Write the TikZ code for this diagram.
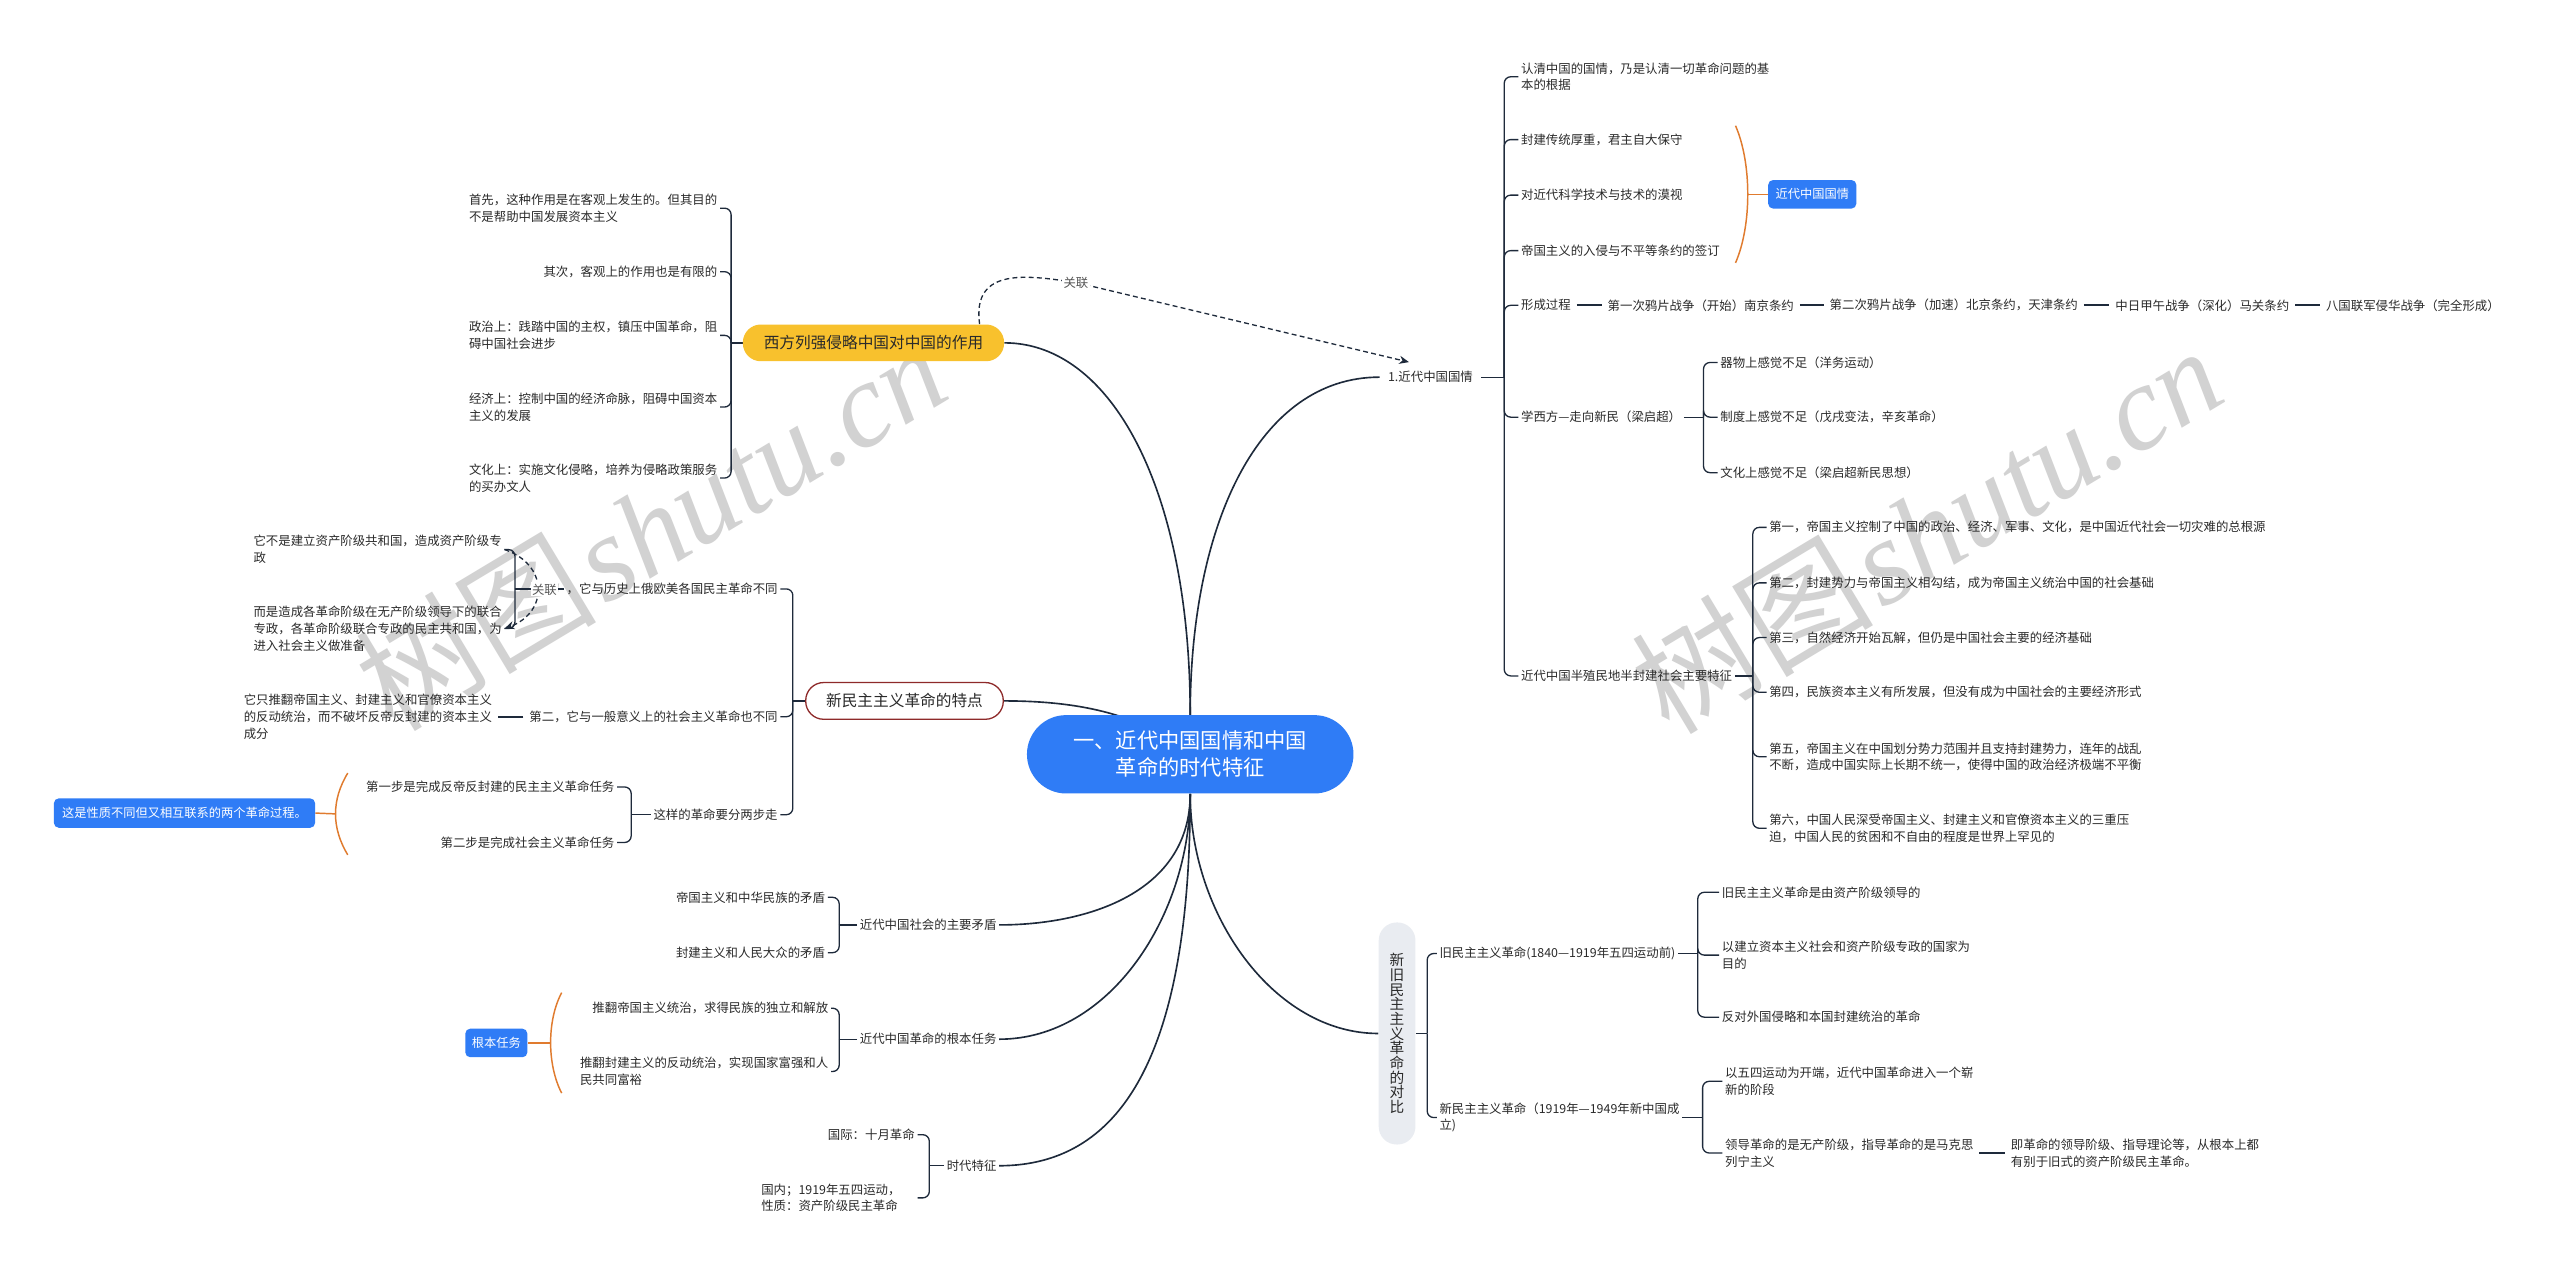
\documentclass[tikz,border=0pt]{standalone}
\usepackage{fontspec}
\setmainfont{Noto Sans CJK SC}
\newfontfamily\wmlat{Liberation Serif}
\usetikzlibrary{arrows.meta}
\pgfdeclarelayer{background}
\pgfsetlayers{background,main}
\definecolor{lc}{HTML}{1E2A3B}
\definecolor{tc}{HTML}{2A2A2A}
\definecolor{lab}{HTML}{555555}
\definecolor{blueC}{HTML}{2F7CF6}
\definecolor{yelC}{HTML}{F8C12D}
\definecolor{orC}{HTML}{E07B2E}
\definecolor{redC}{HTML}{8E2A2A}
\definecolor{pillC}{HTML}{E9ECF1}
\definecolor{wmC}{HTML}{D2D2D2}
\tikzset{
  txt/.style={inner sep=1.5pt, font=\fontsize{7.6}{10.2}\selectfont, align=left, text=tc},
  br/.style={draw=lc, line width=0.8pt, rounded corners=4pt},
  mainln/.style={draw=lc, line width=1pt},
  chain/.style={draw=lc, line width=1.3pt, shorten <=2pt, shorten >=2pt},
  rel/.style={draw=lc, line width=0.8pt, dash pattern=on 3pt off 2pt, -{Stealth[length=6pt,width=5pt]}},
  rellab/.style={fill=white, inner sep=0.8pt, text=lab, font=\fontsize{7.6}{9}\selectfont},
  bluebox/.style={fill=blueC, text=white, rounded corners=3pt, inner sep=0pt, font=\fontsize{7.5}{9}\selectfont, minimum height=17.5pt},
  centerbox/.style={fill=blueC, text=white, rounded corners=24pt, minimum width=200pt, minimum height=48pt, align=center, inner sep=0pt, font=\fontsize{13}{16.7}\selectfont},
  yelbox/.style={fill=yelC, text=tc, rounded corners=11pt, minimum width=160pt, minimum height=22.5pt, inner sep=0pt, font=\fontsize{9.6}{11}\selectfont},
  redbox/.style={draw=redC, line width=0.8pt, fill=white, text=tc, rounded corners=11pt, minimum width=121pt, minimum height=22.5pt, inner sep=0pt, font=\fontsize{9.6}{11}\selectfont},
  pillbox/.style={fill=pillC, text=tc, rounded corners=11pt, minimum width=22.5pt, minimum height=136pt, inner sep=0pt, align=center, font=\fontsize{9}{9}\selectfont},
  ob/.style={draw=orC, line width=0.9pt},
  wm/.style={text=wmC, font=\fontsize{74}{74}\selectfont, inner sep=0pt},
}
\newcommand\BrR[3]{\draw[br] (#1.east) -- ([xshift=#2pt]#1.east);\foreach \ch in {#3}{\draw[br] ([xshift=#2pt]#1.east) |- (\ch.west);}}
\newcommand\BrL[3]{\draw[br] (#1.west) -- ([xshift=-#2pt]#1.west);\foreach \ch in {#3}{\draw[br] ([xshift=-#2pt]#1.west) |- (\ch.east);}}
\begin{document}
\begin{tikzpicture}[x=1pt,y=-1pt]
\useasboundingbox (0,0) rectangle (1568,780);

% ---------- centre ----------
\node[centerbox] (c0) at (729,462) {一、近代中国国情和中国\\革命的时代特征};

% ---------- right top ----------
\node[txt,anchor=west,inner xsep=5pt] (n1) at (845,231) {1.近代中国国情};
\node[txt,anchor=west] (a1) at (930,47) {认清中国的国情，乃是认清一切革命问题的基\\本的根据};
\node[txt,anchor=west] (a2) at (930,85.5) {封建传统厚重，君主自大保守};
\node[txt,anchor=west] (a3) at (930,119.5) {对近代科学技术与技术的漠视};
\node[txt,anchor=west] (a4) at (930,153.5) {帝国主义的入侵与不平等条约的签订};
\node[txt,anchor=west] (a5) at (930,187) {形成过程};
\node[txt,anchor=west] (c1) at (983,187) {第一次鸦片战争（开始）南京条约};
\node[txt,anchor=west] (c2) at (1119,187) {第二次鸦片战争（加速）北京条约，天津条约};
\node[txt,anchor=west] (c3) at (1294,187) {中日甲午战争（深化）马关条约};
\node[txt,anchor=west] (c4) at (1423,187) {八国联军侵华战争（完全形成）};
\node[txt,anchor=west] (a6) at (930,255.5) {学西方—走向新民（梁启超）};
\node[txt,anchor=west] (b1) at (1052,222) {器物上感觉不足（洋务运动）};
\node[txt,anchor=west] (b2) at (1052,255.5) {制度上感觉不足（戊戌变法，辛亥革命）};
\node[txt,anchor=west] (b3) at (1052,289.5) {文化上感觉不足（梁启超新民思想）};
\node[txt,anchor=west] (a7) at (930,414) {近代中国半殖民地半封建社会主要特征};
\node[txt,anchor=west] (d1) at (1082,323) {第一，帝国主义控制了中国的政治、经济、军事、文化，是中国近代社会一切灾难的总根源};
\node[txt,anchor=west] (d2) at (1082,357) {第二，封建势力与帝国主义相勾结，成为帝国主义统治中国的社会基础};
\node[txt,anchor=west] (d3) at (1082,390.5) {第三，自然经济开始瓦解，但仍是中国社会主要的经济基础};
\node[txt,anchor=west] (d4) at (1082,424) {第四，民族资本主义有所发展，但没有成为中国社会的主要经济形式};
\node[txt,anchor=west] (d5) at (1082,463.5) {第五，帝国主义在中国划分势力范围并且支持封建势力，连年的战乱\\不断，造成中国实际上长期不统一，使得中国的政治经济极端不平衡};
\node[txt,anchor=west] (d6) at (1082,507.3) {第六，中国人民深受帝国主义、封建主义和官僚资本主义的三重压\\迫，中国人民的贫困和不自由的程度是世界上罕见的};
\node[bluebox,minimum width=54pt] (g1) at (1110,119) {近代中国国情};

% ---------- right bottom ----------
\node[pillbox] (p) at (855.7,633) {新\\旧\\民\\主\\主\\义\\革\\命\\的\\对\\比};
\node[txt,anchor=west] (q1) at (880,584) {旧民主主义革命(1840—1919年五四运动前)};
\node[txt,anchor=west] (q1a) at (1053,546.5) {旧民主主义革命是由资产阶级领导的};
\node[txt,anchor=west] (q1b) at (1053,585) {以建立资本主义社会和资产阶级专政的国家为\\目的};
\node[txt,anchor=west] (q1c) at (1053,623) {反对外国侵略和本国封建统治的革命};
\node[txt,anchor=west] (q2) at (880,684.5) {新民主主义革命（1919年—1949年新中国成\\立)};
\node[txt,anchor=west] (q2a) at (1055,662.3) {以五四运动为开端，近代中国革命进入一个崭\\新的阶段};
\node[txt,anchor=west] (q2b) at (1055,706.2) {领导革命的是无产阶级，指导革命的是马克思\\列宁主义};
\node[txt,anchor=west] (q2c) at (1230,706.2) {即革命的领导阶级、指导理论等，从根本上都\\有别于旧式的资产阶级民主革命。};

% ---------- left top ----------
\node[yelbox] (xf) at (535,210) {西方列强侵略中国对中国的作用};
\node[txt,anchor=east] (e1) at (441,127.5) {首先，这种作用是在客观上发生的。但其目的\\不是帮助中国发展资本主义};
\node[txt,anchor=east] (e2) at (441,166.4) {其次，客观上的作用也是有限的};
\node[txt,anchor=east] (e3) at (441,205.4) {政治上：践踏中国的主权，镇压中国革命，阻\\碍中国社会进步};
\node[txt,anchor=east] (e4) at (441,249.3) {经济上：控制中国的经济命脉，阻碍中国资本\\主义的发展};
\node[txt,anchor=east] (e5) at (441,292.8) {文化上：实施文化侵略，培养为侵略政策服务\\的买办文人};

% ---------- left middle ----------
\node[redbox] (xm) at (554,429.3) {新民主主义革命的特点};
\node[txt,anchor=east] (f1) at (478,360.7) {，它与历史上俄欧美各国民主革命不同};
\node[txt,anchor=east] (f1a) at (309,336.6) {它不是建立资产阶级共和国，造成资产阶级专\\政};
\node[txt,anchor=east] (f1b) at (309,385) {而是造成各革命阶级在无产阶级领导下的联合\\专政，各革命阶级联合专政的民主共和国，为\\进入社会主义做准备};
\node[txt,anchor=east] (f2) at (478,439) {第二，它与一般意义上的社会主义革命也不同};
\node[txt,anchor=east] (f2a) at (303,439) {它只推翻帝国主义、封建主义和官僚资本主义\\的反动统治，而不破坏反帝反封建的资本主义\\成分};
\node[txt,anchor=east] (f3) at (478,499) {这样的革命要分两步走};
\node[txt,anchor=east] (f3a) at (378,482) {第一步是完成反帝反封建的民主主义革命任务};
\node[txt,anchor=east] (f3b) at (378,516) {第二步是完成社会主义革命任务};
\node[bluebox,minimum width=160pt,minimum height=18pt] (g2) at (113,498) {这是性质不同但又相互联系的两个革命过程。};

% ---------- left bottom ----------
\node[txt,anchor=east] (h1) at (612,566.5) {近代中国社会的主要矛盾};
\node[txt,anchor=east] (h1a) at (507,549.6) {帝国主义和中华民族的矛盾};
\node[txt,anchor=east] (h1b) at (507,583.5) {封建主义和人民大众的矛盾};
\node[txt,anchor=east] (h2) at (612,636.5) {近代中国革命的根本任务};
\node[txt,anchor=east] (h2a) at (509,617.5) {推翻帝国主义统治，求得民族的独立和解放};
\node[txt,anchor=east] (h2b) at (509,656.3) {推翻封建主义的反动统治，实现国家富强和人\\民共同富裕};
\node[bluebox,minimum width=38pt] (g3) at (304,638.8) {根本任务};
\node[txt,anchor=east] (h3) at (612,714) {时代特征};
\node[txt,anchor=east] (h3a) at (562,695) {国际：十月革命};
\node[txt,anchor=east,text width=94pt] (h3b) at (562,733.7) {国内；1919年五四运动，\\性质：资产阶级民主革命};

% ---------- relation labels ----------
\node[rellab] (r1) at (659,173) {关联};
\node[rellab] (r2) at (333.5,361) {关联};

% ---------- orange braces ----------
\coordinate (ob1) at (1070.5,119);
\coordinate (ob2) at (205.5,498.5);
\coordinate (ob3) at (337.3,638.8);

\begin{pgfonlayer}{background}
\fill[white] (0,0) rectangle (1568,780);
\node[wm,rotate=31] (wm1) at (398,322) {树图\hspace{4pt}{\wmlat\itshape shutu.cn}};
\node[wm,rotate=31] (wm2) at (1180,324) {树图\hspace{4pt}{\wmlat\itshape shutu.cn}};

% main curves
\draw[mainln] (xf.east) .. controls ([xshift=66pt]xf.east) and ([yshift=137pt]c0.north) .. (c0.north);
\draw[mainln] (c0.north) .. controls ([yshift=117pt]c0.north) and ([xshift=-74pt]n1.west) .. (n1.west);
\draw[mainln] (xm.east) .. controls ([xshift=45pt]xm.east) and ([xshift=-30pt,yshift=25pt]c0.center) .. (c0.center);
\draw[mainln] (c0.south) .. controls ([yshift=-60pt]c0.south) and ([xshift=55pt]h1.east) .. (h1.east);
\draw[mainln] (c0.south) .. controls ([yshift=-74pt]c0.south) and ([xshift=68pt]h2.east) .. (h2.east);
\draw[mainln] (c0.south) .. controls ([yshift=-154pt]c0.south) and ([xshift=78pt]h3.east) .. (h3.east);
\draw[mainln] (c0.south) .. controls ([yshift=-74pt]c0.south) and ([xshift=-64pt]p.west) .. (p.west);

% brackets
\BrR{n1}{14}{a1,a2,a3,a4,a5,a6,a7}
\BrR{a6}{12}{b1,b2,b3}
\BrR{a7}{11}{d1,d2,d3,d4,d5,d6}
\BrR{p}{7}{q1,q2}
\BrR{q1}{12}{q1a,q1b,q1c}
\BrR{q2}{12.5}{q2a,q2b}
\BrL{xf}{7}{e1,e2,e3,e4,e5}
\BrL{xm}{7.5}{f1,f2,f3}
\BrL{f1}{30}{f1a,f1b}
\BrL{f3}{12}{f3a,f3b}
\BrL{h1}{11}{h1a,h1b}
\BrL{h2}{11}{h2a,h2b}
\BrL{h3}{9}{h3a,h3b}

% chains
\draw[chain] (a5.east) -- (c1.west);
\draw[chain] (c1.east) -- (c2.west);
\draw[chain] (c2.east) -- (c3.west);
\draw[chain] (c3.east) -- (c4.west);
\draw[chain] (q2b.east) -- (q2c.west);
\draw[chain] (f2.west) -- (f2a.east);

% orange braces
\draw[ob] (1063,77) .. controls (1073,100) and (1073,138) .. (1063,161);
\draw[ob] (ob1) -- (g1.west);
\draw[ob] (213,473.5) .. controls (203,490) and (203,507) .. (213,523.6);
\draw[ob] (ob2) -- (g2.east);
\draw[ob] (344,608) .. controls (335,625) and (335,652) .. (344,669.5);
\draw[ob] (ob3) -- (g3.east);

% relations
\draw[rel] ([xshift=65pt]xf.north) .. controls +(-5,-36) and +(-28,-4) .. (r1.center) -- ([xshift=18pt,yshift=4pt]n1.north west);
\draw[rel] (f1a.east) .. controls +(27,9) and +(27,-10) .. (f1b.east);
\end{pgfonlayer}
\end{tikzpicture}
\end{document}
